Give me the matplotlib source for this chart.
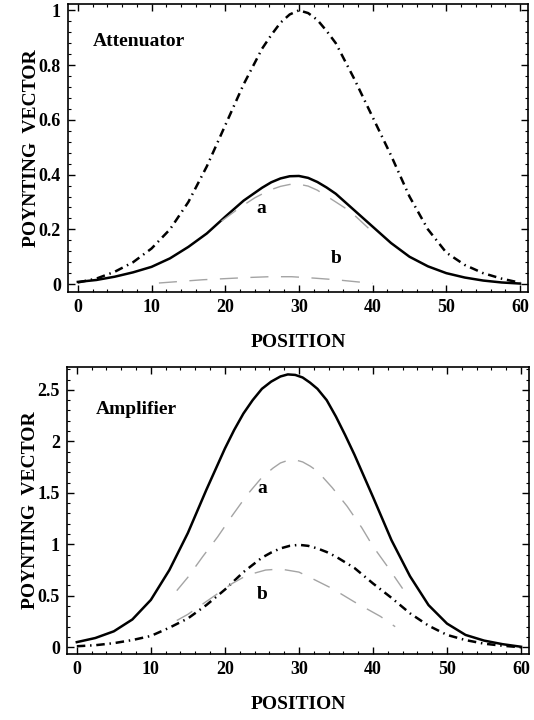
import numpy as np
import matplotlib
matplotlib.use('Agg')
import matplotlib.pyplot as plt
from matplotlib.ticker import FixedLocator, MultipleLocator, FuncFormatter

# --- attenuator panel ---
att_in_x = [0, 2.5, 5, 7.5, 10, 12.5, 15, 17.5, 20, 22.5, 25, 26.25, 27.5, 28.75, 30, 31.25, 32.5, 33.75, 35,
            37.5, 40, 42.5, 45, 47.5, 50, 52.5, 55, 57.5, 60]
att_in_y = [0.006, 0.02, 0.045, 0.08, 0.13, 0.2, 0.3, 0.43, 0.58, 0.73, 0.86, 0.91, 0.955, 0.985, 1.0, 0.99, 0.965, 0.925, 0.88,
            0.75, 0.61, 0.47, 0.32, 0.2, 0.115, 0.07, 0.04, 0.02, 0.005]

att_out_x = [0, 2.5, 5, 7.5, 10, 12.5, 15, 17.5, 20, 22.5, 25, 26.25, 27.5, 28.75, 30, 31.25, 32.5, 33.75, 35,
             37.5, 40, 42.5, 45, 47.5, 50, 52.5, 55, 57.5, 60]
att_out_y = [0.008, 0.015, 0.027, 0.043, 0.063, 0.094, 0.136, 0.185, 0.246, 0.305, 0.352, 0.372, 0.386, 0.394, 0.395, 0.388, 0.373, 0.353, 0.33,
             0.27, 0.21, 0.15, 0.10, 0.065, 0.04, 0.024, 0.013, 0.006, 0.002]

att_a_x = [19.5, 20.5, 22, 24, 26, 27.5, 28.75, 30, 31.25, 32.5, 35, 37, 39, 40]
att_a_y = [0.23, 0.25, 0.28, 0.315, 0.343, 0.357, 0.364, 0.365, 0.358, 0.343, 0.30, 0.265, 0.215, 0.19]

att_b_x = [11, 14, 17, 20, 23, 26, 29, 32, 35, 38, 40]
att_b_y = [0.004, 0.01, 0.016, 0.02, 0.024, 0.027, 0.027, 0.022, 0.016, 0.008, 0.003]

# --- amplifier panel ---
amp_in_x = [0, 2.5, 5, 7.5, 10, 12.5, 15, 17.5, 20, 22.5, 25, 26.25, 27.5, 28.75, 30, 31.25, 32.5, 33.75, 35,
            37.5, 40, 42.5, 45, 47.5, 50, 52.5, 55, 57.5, 60]
amp_in_y = [0.01, 0.02, 0.04, 0.07, 0.11, 0.19, 0.28, 0.41, 0.56, 0.73, 0.87, 0.92, 0.96, 0.985, 0.995, 0.985, 0.96, 0.925, 0.88,
            0.77, 0.62, 0.48, 0.33, 0.21, 0.12, 0.07, 0.035, 0.015, 0.0]

amp_out_x = [0, 2.5, 5, 7.5, 10, 12.5, 15, 17.5, 20, 21.25, 22.5, 23.75, 25, 26.25, 27.5, 28.5, 29.5, 30.5, 31.5, 32.5,
             33.75, 35, 36.25, 37.5, 40, 42.5, 45, 47.5, 50, 52.5, 55, 57.5, 60]
amp_out_y = [0.05, 0.09, 0.155, 0.27, 0.46, 0.75, 1.11, 1.53, 1.93, 2.11, 2.27, 2.40, 2.51, 2.58, 2.63, 2.65, 2.645, 2.62, 2.57, 2.51,
             2.40, 2.24, 2.06, 1.87, 1.46, 1.04, 0.69, 0.41, 0.23, 0.12, 0.065, 0.03, 0.005]

amp_a_x = [13.5, 15, 17, 19, 21, 23, 25, 26.5, 27.5, 28.5, 29.5, 30.5, 31.5, 32.5, 34.5, 36.5, 38.5, 40, 42, 44]
amp_a_y = [0.55, 0.68, 0.88, 1.07, 1.28, 1.48, 1.65, 1.74, 1.79, 1.815, 1.82, 1.80, 1.76, 1.71, 1.55, 1.37, 1.16, 0.98, 0.78, 0.57]

amp_b_x = [13.5, 15, 17, 19, 21, 23, 25.5, 27.5, 30, 32, 34.5, 37.5, 41, 43]
amp_b_y = [0.26, 0.32, 0.42, 0.52, 0.62, 0.70, 0.75, 0.76, 0.73, 0.66, 0.57, 0.44, 0.30, 0.20]

plt.rcParams['font.family'] = ['Liberation Serif', 'DejaVu Serif']
plt.rcParams['font.weight'] = 'bold'

dashdot = (0, (3.4, 1.9, 0.6, 1.9))
graydash = (0, (13, 9))
gray = '#a4a4a4'

fig = plt.figure(figsize=(5.34, 7.2), dpi=100)
ax1 = fig.add_axes([0.127, 0.594, 0.862, 0.400])
ax2 = fig.add_axes([0.125, 0.092, 0.866, 0.398])


def style(ax, yticks, yminor):
    ax.set_xlim(-1.36, 61.1)
    ax.xaxis.set_major_locator(FixedLocator([0, 10, 20, 30, 40, 50, 60]))
    ax.xaxis.set_minor_locator(MultipleLocator(2))
    ax.yaxis.set_major_locator(FixedLocator(yticks))
    ax.yaxis.set_minor_locator(MultipleLocator(yminor))
    ax.yaxis.set_major_formatter(FuncFormatter(lambda v, p: '%g' % v))
    ax.tick_params(which='both', direction='in', top=True, right=True)
    ax.tick_params(which='major', length=5, width=1, labelsize=13, pad=5)
    ax.tick_params(which='minor', length=2.5, width=0.8)
    for s in ax.spines.values():
        s.set_linewidth(1.2)
    ax.set_xlabel('POSITION', fontsize=14, fontweight='bold', labelpad=13)
    ax.set_ylabel('POYNTING  VECTOR', fontsize=14, fontweight='bold', labelpad=-1)


ax1.plot(att_in_x, att_in_y, color='black', lw=1.8, ls=dashdot)
ax1.plot(att_out_x, att_out_y, color='black', lw=1.8)
ax1.plot(att_a_x, att_a_y, color=gray, lw=1.0, ls=graydash)
ax1.plot(att_b_x, att_b_y, color=gray, lw=1.0, ls=graydash)
ax1.set_ylim(-0.03, 1.022)
style(ax1, [0, 0.2, 0.4, 0.6, 0.8, 1.0], 0.04)
ax1.text(2.0, 0.885, 'Attenuator', fontsize=14, fontweight='bold', va='center')
ax1.text(24.9, 0.276, 'a', fontsize=14, fontweight='bold', ha='center', va='center')
ax1.text(35.1, 0.095, 'b', fontsize=14, fontweight='bold', ha='center', va='center')

ax2.plot(amp_in_x, amp_in_y, color='black', lw=1.8, ls=dashdot)
ax2.plot(amp_out_x, amp_out_y, color='black', lw=1.8)
ax2.plot(amp_a_x, amp_a_y, color=gray, lw=1.0, ls=graydash)
ax2.plot(amp_b_x, amp_b_y, color=gray, lw=1.0, ls=graydash)
ax2.set_ylim(-0.063, 2.72)
style(ax2, [0, 0.5, 1.0, 1.5, 2.0, 2.5], 0.1)
ax2.text(2.5, 2.31, 'Amplifier', fontsize=14, fontweight='bold', va='center')
ax2.text(25.1, 1.545, 'a', fontsize=14, fontweight='bold', ha='center', va='center')
ax2.text(25.1, 0.51, 'b', fontsize=14, fontweight='bold', ha='center', va='center')

fig.savefig('out.png', dpi=100)
